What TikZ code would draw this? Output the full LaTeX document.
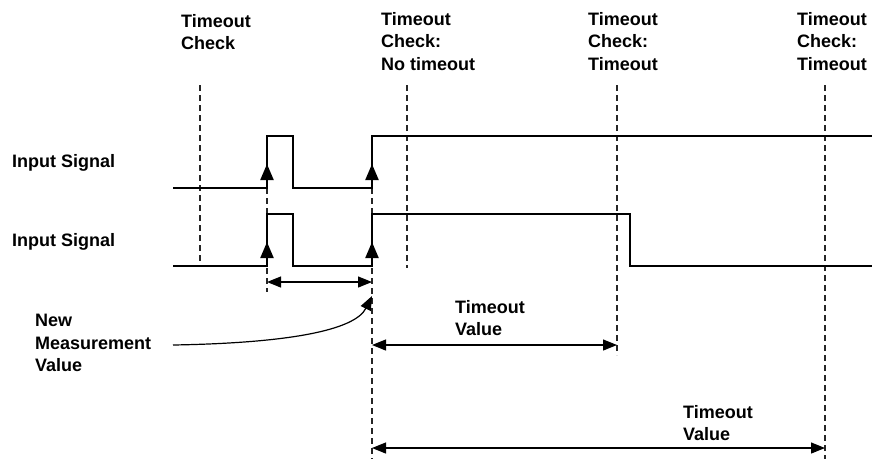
\documentclass[tikz,border=0pt]{standalone}
\usepackage{fontspec}
\setmainfont{Liberation Sans}
\usetikzlibrary{arrows.meta}
\begin{document}
\begin{tikzpicture}[x=1pt,y=-1pt,
  lbl/.style={anchor=north west, inner sep=0pt, align=left, font=\bfseries\fontsize{18}{22.5}\selectfont},
  sig/.style={line width=2.2pt, line join=miter},
  guide/.style={line width=1.1pt, dash pattern=on 6pt off 4pt, draw=black!85},
  dimarrow/.style={line width=1.2pt, {Triangle[length=14pt,width=11pt]}-{Triangle[length=14pt,width=11pt]}},
  edgearr/.style={line width=2.2pt, -{Triangle[length=16pt,width=13pt]}},
  curvearr/.style={line width=1.2pt, -{Triangle[length=14pt,width=11pt]}},
]
\useasboundingbox (0,0) rectangle (872,459);

% guide coordinates
\coordinate (g1t) at (200,85);  \coordinate (g1b) at (200,267);
\coordinate (g2t) at (267,188); \coordinate (g2b) at (267,292);
\coordinate (g3t) at (372,188); \coordinate (g3b) at (372,459);
\coordinate (g4t) at (407,85);  \coordinate (g4b) at (407,268);
\coordinate (g5t) at (617,85);  \coordinate (g5b) at (617,355);
\coordinate (g6t) at (825,85);  \coordinate (g6b) at (825,459);

\draw[guide] (g1t) -- (g1b);
\draw[guide] (g2t) -- (g2b);
\draw[guide] (g3t) -- (g3b);
\draw[guide] (g4t) -- (g4b);
\draw[guide] (g5t) -- (g5b);
\draw[guide] (g6t) -- (g6b);

% signal 1
\coordinate (s1a) at (173,188);
\coordinate (s1b) at (267,188);
\coordinate (s1c) at (267,136);
\coordinate (s1d) at (293,136);
\coordinate (s1e) at (293,188);
\coordinate (s1f) at (372,188);
\coordinate (s1g) at (372,136);
\coordinate (s1h) at (872,136);
\draw[sig] (s1a) -- (s1b) -- (s1c) -- (s1d) -- (s1e) -- (s1f) -- (s1g) -- (s1h);

% signal 2
\coordinate (s2a) at (173,266);
\coordinate (s2b) at (267,266);
\coordinate (s2c) at (267,214);
\coordinate (s2d) at (293,214);
\coordinate (s2e) at (293,266);
\coordinate (s2f) at (372,266);
\coordinate (s2g) at (372,214);
\coordinate (s2h) at (630,214);
\coordinate (s2i) at (630,266);
\coordinate (s2j) at (872,266);
\draw[sig] (s2a) -- (s2b) -- (s2c) -- (s2d) -- (s2e) -- (s2f) -- (s2g) -- (s2h) -- (s2i) -- (s2j);

% rising edge arrows
\coordinate (e1) at (267,164);
\coordinate (e2) at (372,164);
\coordinate (e3) at (267,242);
\coordinate (e4) at (372,242);
\draw[edgearr] (s1b) -- (e1);
\draw[edgearr] (s1f) -- (e2);
\draw[edgearr] (s2b) -- (e3);
\draw[edgearr] (s2f) -- (e4);

% dimension arrows
\coordinate (m1l) at (267,282); \coordinate (m1r) at (372,282);
\coordinate (m2l) at (372,345); \coordinate (m2r) at (617,345);
\coordinate (m3l) at (372,448); \coordinate (m3r) at (825,448);
\draw[dimarrow] (m1l) -- (m1r);
\draw[dimarrow] (m2l) -- (m2r);
\draw[dimarrow] (m3l) -- (m3r);

% curved arrow
\coordinate (cs) at (173,345);
\coordinate (ce) at (372,296);
\draw[curvearr] (cs) .. controls (290,343) and (355,330) .. (ce);

% labels
\node[lbl] (t1) at (181,14) {Timeout\\Check};
\node[lbl] (t2) at (381,12) {Timeout\\Check:\\No timeout};
\node[lbl] (t3) at (588,12) {Timeout\\Check:\\Timeout};
\node[lbl] (t4) at (797,12) {Timeout\\Check:\\Timeout};
\node[lbl] (in1) at (12,154) {Input Signal};
\node[lbl] (in2) at (12,233) {Input Signal};
\node[lbl] (nm) at (35,314) {New\\Measurement\\Value};
\node[lbl] (tv1) at (455,300) {Timeout\\Value};
\node[lbl] (tv2) at (683,405) {Timeout\\Value};
\end{tikzpicture}
\end{document}
